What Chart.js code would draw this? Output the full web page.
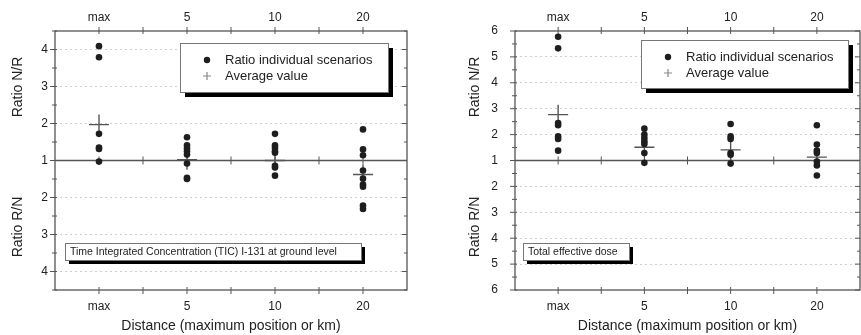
<!DOCTYPE html>
<html>
<head>
<meta charset="utf-8">
<script src="https://cdn.jsdelivr.net/npm/chart.js@4.4.0/dist/chart.umd.min.js"></script>
<style>
  html, body { margin: 0; padding: 0; background: #fff; }
  #wrap { position: relative; width: 861px; height: 335px; overflow: hidden; }
  canvas { position: absolute; top: 0; }
</style>
</head>
<body>
<div id="wrap">
  <canvas id="ticChart" width="430" height="335" style="left:0"></canvas>
  <canvas id="doseChart" width="431" height="335" style="left:430px"></canvas>
</div>
<script>
const categories = ['max', '5', '10', '20'];

// TIC I-131 at ground level: ratios above the 1-line are N/R, below are R/N
const ticNR = [[4.09, 3.79, 1.72, 1.35, 1.31], [1.63, 1.41, 1.33, 1.25, 1.16], [1.72, 1.41, 1.34, 1.25, 1.21], [1.84, 1.30, 1.14]];
const ticRN = [[1.03], [1.08, 1.47, 1.50], [1.14, 1.19, 1.41], [1.27, 1.49, 1.65, 1.71, 2.22, 2.31]];
const ticAvgNR = [1.97, 1.02, 1.0, null];
const ticAvgRN = [null, null, null, 1.38];
const ticTicks = [1, 2, 3, 4];
const ticLimit = 4.5;

// Total effective dose
const doseNR = [[5.78, 5.33, 2.45, 2.36, 1.93, 1.83, 1.38], [2.23, 2.0, 1.87, 1.74, 1.64, 1.29], [2.41, 1.93, 1.83, 1.29, 1.22], [2.36, 1.62, 1.38, 1.29]];
const doseRN = [[], [1.09], [1.12], [1.04, 1.19, 1.58]];
const doseAvgNR = [2.77, 1.51, 1.41, 1.13];
const doseAvgRN = [null, null, null, null];
const doseTicks = [1, 2, 3, 4, 5, 6];
const doseLimit = 6;

const FONT = "'Liberation Sans', Arial, sans-serif";
const INK = '#222';

// N/R plotted upward from the 1-line, R/N downward
function points(nr, rn) {
  const out = [];
  nr.forEach((list, i) => (list || []).forEach(v => out.push({ x: i, y: v - 1 })));
  rn.forEach((list, i) => (list || []).forEach(v => out.push({ x: i, y: -(v - 1) })));
  return out;
}
function avgPoints(nr, rn) {
  const out = [];
  nr.forEach((v, i) => { if (v != null) out.push({ x: i, y: v - 1 }); });
  rn.forEach((v, i) => { if (v != null) out.push({ x: i, y: -(v - 1) }); });
  return out;
}

function boxWithShadow(ctx, x, y, w, h, sh) {
  ctx.fillStyle = '#000';
  ctx.fillRect(x + sh, y + sh, w, h);
  ctx.fillStyle = '#fff';
  ctx.fillRect(x, y, w, h);
  ctx.strokeStyle = '#777';
  ctx.lineWidth = 1;
  ctx.strokeRect(x + 0.5, y + 0.5, w, h);
}

const framePlugin = {
  id: 'frame',
  beforeDatasetsDraw(chart) {
    const { ctx, chartArea: a, scales } = chart;
    const x = scales.x, y = scales.y;
    ctx.save();
    ctx.strokeStyle = '#555';
    ctx.lineWidth = 1.3;
    ctx.strokeRect(a.left, a.top, a.right - a.left, a.bottom - a.top);
    // ratio = 1 line
    const y0 = y.getPixelForValue(0);
    ctx.beginPath();
    ctx.moveTo(a.left, y0); ctx.lineTo(a.right, y0);
    ctx.stroke();
    ctx.lineWidth = 1;
    x.ticks.forEach(t => {
      const px = x.getPixelForValue(t.value);
      ctx.beginPath();
      ctx.moveTo(px, a.bottom - 3); ctx.lineTo(px, a.bottom + 4);
      ctx.moveTo(px, a.top + 3); ctx.lineTo(px, a.top - 4);
      ctx.moveTo(px, y0 - 4); ctx.lineTo(px, y0 + 4);
      ctx.stroke();
    });
    y.ticks.forEach(t => {
      const py = y.getPixelForValue(t.value);
      const len = Number.isInteger(t.value) ? 5 : 3;
      ctx.beginPath();
      ctx.moveTo(a.left - len, py); ctx.lineTo(a.left + 2, py);
      ctx.moveTo(a.right - len, py); ctx.lineTo(a.right, py);
      ctx.stroke();
    });
    ctx.restore();
  },
  afterDraw(chart, args, opts) {
    const { ctx, chartArea: a } = chart;
    ctx.save();
    // side titles
    ctx.fillStyle = INK;
    ctx.font = '14px ' + FONT;
    ctx.textAlign = 'center';
    ctx.textBaseline = 'middle';
    [['Ratio N/R', a.top + 56], ['Ratio R/N', a.bottom - 63]].forEach(([t, py]) => {
      ctx.save();
      ctx.translate(opts.titleX, py);
      ctx.rotate(-Math.PI / 2);
      ctx.fillText(t, 0, 0);
      ctx.restore();
    });
    // legend box
    const L = opts.legend;
    boxWithShadow(ctx, L.x, L.y, L.w, L.h, 5);
    ctx.textAlign = 'left';
    ctx.font = '13px ' + FONT;
    ctx.fillStyle = '#1e1e1e';
    ctx.beginPath();
    ctx.arc(L.x + 27, L.y + 17, 3.2, 0, Math.PI * 2);
    ctx.fill();
    ctx.fillStyle = INK;
    ctx.fillText('Ratio individual scenarios', L.x + 45, L.y + 17);
    ctx.strokeStyle = '#888';
    ctx.lineWidth = 1.2;
    ctx.beginPath();
    ctx.moveTo(L.x + 23, L.y + 33); ctx.lineTo(L.x + 31, L.y + 33);
    ctx.moveTo(L.x + 27, L.y + 29); ctx.lineTo(L.x + 27, L.y + 37);
    ctx.stroke();
    ctx.fillText('Average value', L.x + 45, L.y + 33);
    // annotation box
    const N = opts.note;
    boxWithShadow(ctx, N.x, N.y, N.w, N.h, 4);
    ctx.fillStyle = INK;
    ctx.font = '10.5px ' + FONT;
    ctx.fillText(N.text, N.x + 5, N.y + N.h / 2 + 1);
    ctx.restore();
  }
};

function makeChart(id, nr, rn, avgNr, avgRn, tickRatios, limit, layout) {
  const ext = limit - 1;
  const yTicks = [];
  for (let v = -ext; v <= ext + 1e-9; v += 0.5) yTicks.push(v);
  const xTicks = [];
  for (let v = 0; v <= categories.length - 1; v += 0.5) xTicks.push(v);
  const yLabel = v => {
    const r = Math.abs(v) + 1;
    return Number.isInteger(v) && tickRatios.includes(r) ? String(r) : '';
  };
  const xLabel = v => Number.isInteger(v) ? categories[v] : '';
  const tickFont = { family: FONT, size: 12 };

  return new Chart(document.getElementById(id), {
    type: 'scatter',
    data: {
      datasets: [{
        label: 'Ratio individual scenarios',
        data: points(nr, rn),
        pointStyle: 'circle',
        pointRadius: 3.3,
        backgroundColor: '#1e1e1e',
        borderWidth: 0
      }, {
        label: 'Average value',
        data: avgPoints(avgNr, avgRn),
        pointStyle: 'cross',
        pointRadius: 10,
        borderColor: '#555',
        borderWidth: 1.4
      }]
    },
    options: {
      responsive: false,
      animation: false,
      layout: { autoPadding: false, padding: { left: 0, right: layout.right, top: 0, bottom: 0 } },
      plugins: {
        legend: { display: false },
        tooltip: { enabled: false },
        frame: layout.frame
      },
      scales: {
        x: {
          type: 'linear', position: 'bottom', min: -0.5, max: categories.length - 0.5,
          afterBuildTicks: s => { s.ticks = xTicks.map(v => ({ value: v })); },
          afterFit: s => { s.height = 45; },
          grid: { display: false, drawTicks: false },
          border: { display: false },
          ticks: { autoSkip: false, maxRotation: 0, padding: 9, color: INK, font: tickFont, callback: xLabel },
          title: { display: true, text: 'Distance (maximum position or km)', color: INK,
                   font: { family: FONT, size: 14 }, padding: { top: 0, bottom: 0 } }
        },
        x2: {
          type: 'linear', position: 'top', min: -0.5, max: categories.length - 0.5,
          afterBuildTicks: s => { s.ticks = xTicks.map(v => ({ value: v })); },
          afterFit: s => { s.height = 31; },
          grid: { display: false, drawTicks: false },
          border: { display: false },
          ticks: { autoSkip: false, maxRotation: 0, padding: 6, color: INK, font: tickFont, callback: xLabel }
        },
        y: {
          type: 'linear', min: -ext, max: ext,
          afterBuildTicks: s => { s.ticks = yTicks.map(v => ({ value: v })); },
          afterFit: s => { s.width = layout.yWidth; },
          grid: {
            drawTicks: false,
            lineWidth: 1,
            color: c => (Number.isInteger(c.tick.value) && c.tick.value !== 0 && Math.abs(c.tick.value) < ext) ? '#cfcfcf' : 'rgba(0,0,0,0)'
          },
          border: { display: false, dash: [2, 3] },
          ticks: { autoSkip: false, padding: layout.yPad, color: INK, font: tickFont, callback: yLabel }
        }
      }
    },
    plugins: [framePlugin]
  });
}

makeChart('ticChart', ticNR, ticRN, ticAvgNR, ticAvgRN, ticTicks, ticLimit, {
  right: 23, yWidth: 55, yPad: 7,
  frame: {
    titleX: 18,
    legend: { x: 180, y: 43, w: 208, h: 49 },
    note: { x: 65, y: 243, w: 296, h: 17, text: 'Time Integrated Concentration (TIC) I-131 at ground level' }
  }
});

makeChart('doseChart', doseNR, doseRN, doseAvgNR, doseAvgRN, doseTicks, doseLimit, {
  right: 1, yWidth: 85, yPad: 17,
  frame: {
    titleX: 45,
    legend: { x: 211, y: 40, w: 207, h: 48 },
    note: { x: 93, y: 243, w: 106, h: 17, text: 'Total effective dose' }
  }
});
</script>
</body>
</html>
